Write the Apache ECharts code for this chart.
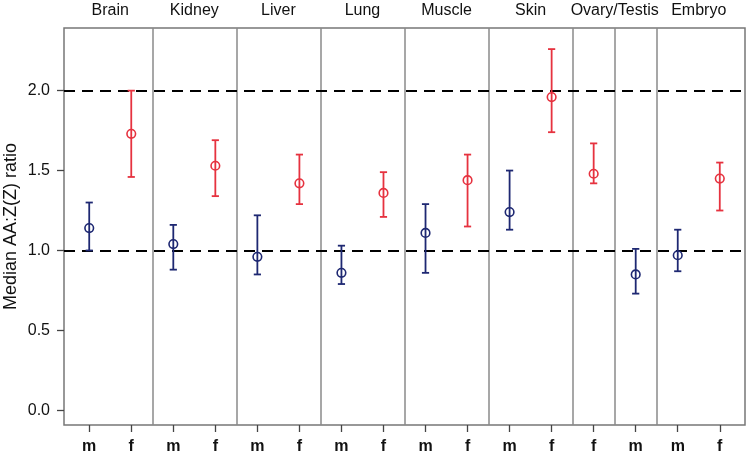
<!DOCTYPE html>
<html>
<head>
<meta charset="utf-8">
<script src="https://cdn.jsdelivr.net/npm/echarts@6/dist/echarts.min.js"></script>
<style>html,body{margin:0;padding:0;background:#fff;}#c{width:750px;height:455px;}</style>
</head>
<body>
<div id="c"></div>
<script>
// Panels (tissues) and their centre positions on the x scale
var panels = ['Brain','Kidney','Liver','Lung','Muscle','Skin','Ovary/Testis','Embryo'];
var panelCenters = [1.5,3.5,5.5,7.5,9.5,11.5,13.5,15.5];
var panelBounds = [2.5,4.5,6.5,8.5,10.5,12.5,13.5,14.5];
// Each point: sex label, median, lower, upper
var sexLabels = ['m','f','m','f','m','f','m','f','m','f','m','f','f','m','m','f'];
var medians = [1.14,1.73,1.04,1.53,0.96,1.42,0.86,1.36,1.11,1.44,1.24,1.96,1.48,0.85,0.97,1.45];
var lowers  = [1.00,1.46,0.88,1.34,0.85,1.29,0.79,1.21,0.86,1.15,1.13,1.74,1.42,0.73,0.87,1.25];
var uppers  = [1.30,2.00,1.16,1.69,1.22,1.60,1.03,1.49,1.29,1.60,1.50,2.26,1.67,1.01,1.13,1.55];
var yTicks = [0,0.5,1,1.5,2];
var refLines = [1,2];

var blue = '#1e2872', red = '#e6323f';
var pts = sexLabels.map(function(s,i){ return [i+1, medians[i], lowers[i], uppers[i]]; });
var xPos = sexLabels.map(function(s,i){ return i+1; });

var chart = echarts.init(document.getElementById('c'), null, {renderer:'canvas'});
var markData = panelBounds.map(function(b){ return {xAxis:b, lineStyle:{color:'#8a8a8a', width:1.5, type:'solid'}}; })
  .concat(refLines.map(function(v){ return {yAxis:v, lineStyle:{color:'#000', width:2.2, type:[11,7]}}; }));

var font = 'Liberation Sans';
chart.setOption({
  animation:false,
  grid:{left:64, right:5, top:28, bottom:30, show:true, borderColor:'#777', borderWidth:1.5, backgroundColor:'transparent',
    containLabel:false, outerBoundsMode:'none'},
  xAxis:[{
    type:'value', min:0.4, max:16.6, position:'bottom',
    axisLine:{show:false, onZero:false}, splitLine:{show:false},
    axisTick:{show:true, length:7, customValues:xPos, lineStyle:{color:'#444', width:1.3}},
    axisLabel:{show:true, customValues:xPos, margin:14, fontSize:16, fontWeight:'bold', color:'#111', fontFamily:font,
      formatter:function(v){ return sexLabels[Math.round(v)-1] || ''; }}
  },{
    type:'value', min:0.4, max:16.6, position:'top',
    axisLine:{show:false, onZero:false}, splitLine:{show:false}, axisTick:{show:false},
    axisLabel:{show:true, customValues:panelCenters, margin:9, fontSize:16, color:'#111', fontFamily:font,
      formatter:function(v){ var i = panelCenters.indexOf(v); return i>=0 ? panels[i] : ''; }}
  }],
  yAxis:{
    type:'value', min:-0.092, max:2.392,
    axisLine:{show:false, onZero:false}, splitLine:{show:false},
    axisTick:{show:true, length:7, customValues:yTicks, lineStyle:{color:'#444', width:1.3}},
    axisLabel:{show:true, customValues:yTicks, margin:14, fontSize:16, color:'#111', fontFamily:font,
      formatter:function(v){ return v.toFixed(1); }},
    name:'Median AA:Z(Z) ratio', nameLocation:'middle', nameGap:44, nameRotate:90, nameMoveOverlap:false,
    nameTextStyle:{fontSize:18, color:'#111', fontFamily:font}
  },
  series:[{
    type:'custom',
    data:pts,
    encode:{x:0, y:1},
    renderItem:function(params, api){
      var x = api.value(0), m = api.value(1), lo = api.value(2), hi = api.value(3);
      var col = sexLabels[params.dataIndex]==='m' ? blue : red;
      var pm = api.coord([x,m]), pl = api.coord([x,lo]), ph = api.coord([x,hi]);
      var w = 3.6, st = {stroke:col, lineWidth:1.8, fill:null};
      return {type:'group', children:[
        {type:'line', shape:{x1:pl[0], y1:pl[1], x2:ph[0], y2:ph[1]}, style:st},
        {type:'line', shape:{x1:pl[0]-w, y1:pl[1], x2:pl[0]+w, y2:pl[1]}, style:st},
        {type:'line', shape:{x1:ph[0]-w, y1:ph[1], x2:ph[0]+w, y2:ph[1]}, style:st},
        {type:'circle', shape:{cx:pm[0], cy:pm[1], r:4.3}, style:{stroke:col, lineWidth:1.6, fill:null}}
      ]};
    },
    markLine:{silent:true, symbol:'none', label:{show:false}, data:markData, z:1}
  }]
});
</script>
</body>
</html>
